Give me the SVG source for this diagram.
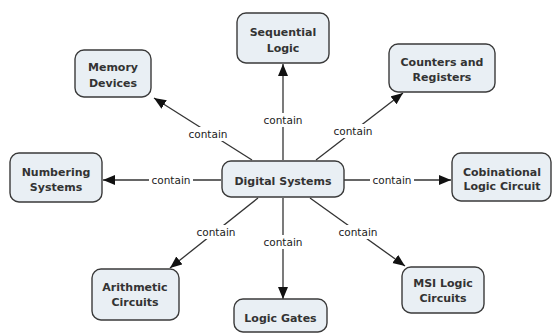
<svg xmlns="http://www.w3.org/2000/svg" width="554" height="334" viewBox="0 0 554 334">
<style>
.node rect{fill:#e9eff4;stroke:#3a3a3a;stroke-width:1.4}
.node text{font-family:"DejaVu Sans",Verdana,sans-serif;font-weight:bold;font-size:11px;fill:#333;text-anchor:middle}
.edge line{stroke:#333;stroke-width:1.3}
.lbl rect{fill:#fff}
.lbl text{font-family:"DejaVu Sans",Verdana,sans-serif;font-size:10.5px;fill:#222;text-anchor:middle}
</style>
<defs>
<marker id="ah" markerUnits="userSpaceOnUse" markerWidth="13" markerHeight="11" refX="12" refY="5" orient="auto">
<path d="M0,0 L12,5 L0,10 z" fill="#111"/>
</marker>
</defs>
<rect width="554" height="334" fill="#fff"/>
<g id="connectors">
<g class="edge">
<line x1="283" y1="160" x2="283" y2="64" marker-end="url(#ah)"/>
<line x1="252" y1="160" x2="154" y2="98" marker-end="url(#ah)"/>
<line x1="316" y1="160" x2="403" y2="93" marker-end="url(#ah)"/>
<line x1="221" y1="180" x2="103" y2="180" marker-end="url(#ah)"/>
<line x1="344" y1="180" x2="451" y2="180" marker-end="url(#ah)"/>
<line x1="258" y1="198" x2="170" y2="268" marker-end="url(#ah)"/>
<line x1="283" y1="198" x2="283" y2="299" marker-end="url(#ah)"/>
<line x1="310" y1="198" x2="405" y2="266" marker-end="url(#ah)"/>
</g>
<g class="lbl">
<rect x="261" y="113" width="44" height="14"/><text x="283" y="124">contain</text>
<rect x="186" y="127" width="44" height="14"/><text x="208" y="138">contain</text>
<rect x="331" y="124" width="44" height="14"/><text x="353" y="135">contain</text>
<rect x="149" y="173" width="44" height="14"/><text x="171" y="184">contain</text>
<rect x="370" y="173" width="44" height="14"/><text x="392" y="184">contain</text>
<rect x="194" y="225" width="44" height="14"/><text x="216" y="236">contain</text>
<rect x="261" y="235" width="44" height="14"/><text x="283" y="246">contain</text>
<rect x="336" y="225" width="44" height="14"/><text x="358" y="236">contain</text>
</g>
</g>
<g id="digital" class="node"><rect x="222" y="161" width="122" height="36" rx="9"/><text x="283" y="185">Digital Systems</text></g>
<g id="sequential" class="node"><rect x="237" y="13" width="92" height="50" rx="9"/><text x="283" y="36">Sequential</text><text x="283" y="52">Logic</text></g>
<g id="memory" class="node"><rect x="75" y="50" width="76" height="47" rx="9"/><text x="113" y="71">Memory</text><text x="113" y="87">Devices</text></g>
<g id="counters" class="node"><rect x="389" y="44" width="106" height="48" rx="9"/><text x="442" y="66">Counters and</text><text x="442" y="81">Registers</text></g>
<g id="numbering" class="node"><rect x="10" y="153" width="92" height="49" rx="9"/><text x="56" y="176">Numbering</text><text x="56" y="191">Systems</text></g>
<g id="cobinational" class="node"><rect x="452" y="153" width="99" height="48" rx="9"/><text x="502" y="176">Cobinational</text><text x="502" y="190">Logic Circuit</text></g>
<g id="arithmetic" class="node"><rect x="92" y="269" width="87" height="51" rx="9"/><text x="135" y="291">Arithmetic</text><text x="135" y="306">Circuits</text></g>
<g id="logicgates" class="node"><rect x="234" y="299" width="93" height="33" rx="9"/><text x="280.5" y="322">Logic Gates</text></g>
<g id="msi" class="node"><rect x="402" y="267" width="82" height="46" rx="9"/><text x="443" y="287">MSI Logic</text><text x="443" y="302">Circuits</text></g>
</svg>
